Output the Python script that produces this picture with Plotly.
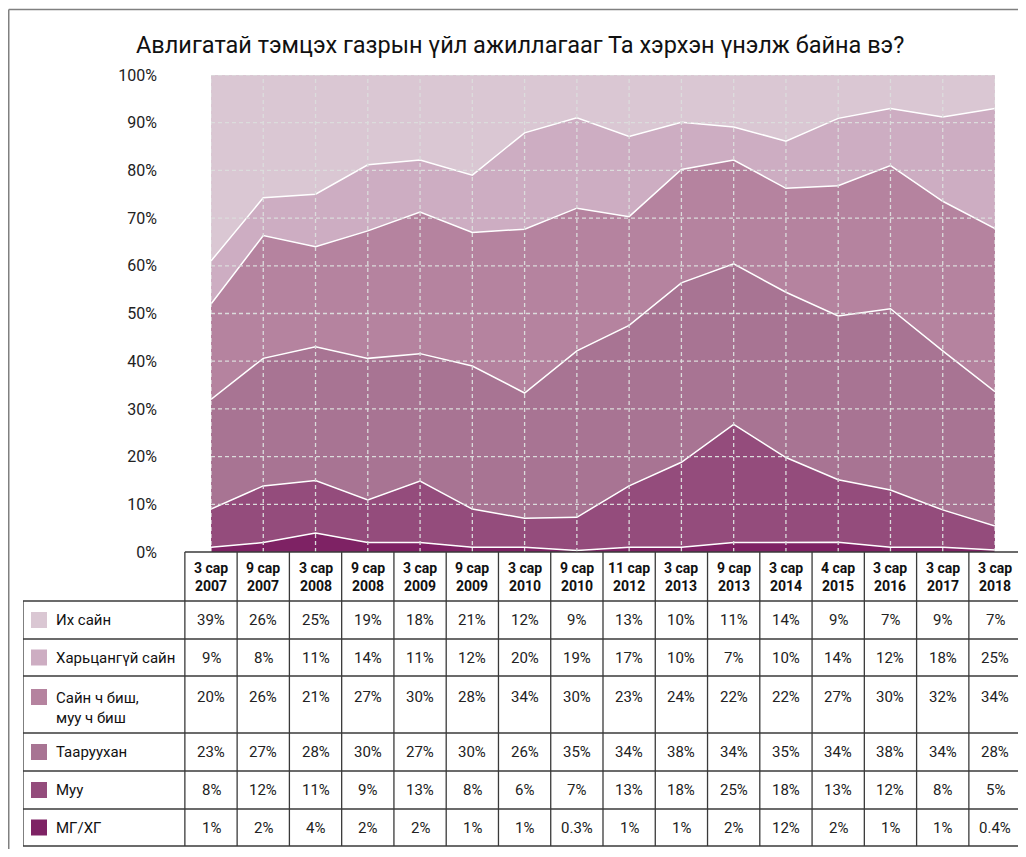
import plotly.graph_objects as go

# ---------------- data ----------------
categories = ["3 сар 2007", "9 сар 2007", "3 сар 2008", "9 сар 2008", "3 сар 2009",
              "9 сар 2009", "3 сар 2010", "9 сар 2010", "11 сар 2012", "3 сар 2013",
              "9 сар 2013", "3 сар 2014", "4 сар 2015", "3 сар 2016", "3 сар 2017",
              "3 сар 2018"]

ikh_sain = [39, 26, 25, 19, 18, 21, 12, 9, 13, 10, 11, 14, 9, 7, 9, 7]
kharitsangui_sain = [9, 8, 11, 14, 11, 12, 20, 19, 17, 10, 7, 10, 14, 12, 18, 25]
sain_ch_bish = [20, 26, 21, 27, 30, 28, 34, 30, 23, 24, 22, 22, 27, 30, 32, 34]
taaruukhan = [23, 27, 28, 30, 27, 30, 26, 35, 34, 38, 34, 35, 34, 38, 34, 28]
muu = [8, 12, 11, 9, 13, 8, 6, 7, 13, 18, 25, 18, 13, 12, 8, 5]
mg_khg = [1, 2, 4, 2, 2, 1, 1, 0.3, 1, 1, 2, 2, 2, 1, 1, 0.4]
# the printed table shows "12%" for МГ/ХГ in 3 сар 2014, while the area uses 2%
table_text_overrides = {("МГ/ХГ", 11): "12%"}

y_ticks = [0, 10, 20, 30, 40, 50, 60, 70, 80, 90, 100]

# series listed top (table order) -> drawn bottom-up
series = [
    ("Их сайн", ikh_sain, "#dac7d3"),
    ("Харьцангүй сайн", kharitsangui_sain, "#cdadc2"),
    ("Сайн ч биш,<br>муу ч биш", sain_ch_bish, "#b5839f"),
    ("Тааруухан", taaruukhan, "#a87493"),
    ("Муу", muu, "#944c7c"),
    ("МГ/ХГ", mg_khg, "#7e2264"),
]

# ---------------- layout constants (window pixels) ----------------
OFF = 8                      # browser body margin
W, H = 1026 - OFF, 857 - 2 * OFF
PLOT_L, PLOT_R = 211, 995
PLOT_T, PLOT_B = 75, 552
n = len(categories)
colw = (PLOT_R - PLOT_L) / (n - 1)
TABLE_L = 23
TABLE_R = PLOT_R + colw / 2
HEADER_T = PLOT_B
row_edges = [601, 639, 676, 733, 771, 809, 846]

FONT = "Roboto, 'Liberation Sans', Arial, sans-serif"
LINE_C = "#3a3a3a"
GRID_C = "#dcdcdc"


def px(xp):
    return (xp - OFF) / W


def py(yp):
    return 1 - (yp - OFF) / H


fig = go.Figure()

for name, vals, color in reversed(series):
    fig.add_trace(go.Scatter(
        x=categories, y=vals, name=name.replace("<br>", " "),
        mode="lines", stackgroup="one", groupnorm="percent",
        line=dict(color="white", width=0 if name == "Их сайн" else 1.5),
        fillcolor=color, hoverinfo="x+y+name",
        xaxis="x", yaxis="y",
    ))

# invisible trace for the table helper subplot
fig.add_trace(go.Scatter(x=[], y=[], xaxis="x2", yaxis="y2", showlegend=False))

shapes = []
# grid drawn above the areas
grid_line = dict(color=GRID_C, width=1.3, dash="4px,3px")
for t in y_ticks[1:]:
    shapes.append(dict(type="line", xref="x", yref="y", x0=0, x1=n - 1, y0=t, y1=t,
                       line=grid_line, layer="above"))
for i in range(n):
    shapes.append(dict(type="line", xref="x", yref="y", x0=i, x1=i, y0=0, y1=100,
                       line=grid_line, layer="above"))

# table: x2 axis has one unit per column, centred on the chart categories
x2_left = -0.5 - (PLOT_L - colw / 2 - TABLE_L) / colw
hl = dict(color=LINE_C, width=1.3)
shapes.append(dict(type="line", xref="x2", yref="paper", x0=-0.5, x1=n - 0.5,
                   y0=py(HEADER_T), y1=py(HEADER_T), line=hl))
for ye in row_edges:
    shapes.append(dict(type="line", xref="x2", yref="paper", x0=x2_left, x1=n - 0.5,
                       y0=py(ye), y1=py(ye), line=hl))
shapes.append(dict(type="line", xref="x2", yref="paper", x0=x2_left, x1=x2_left,
                   y0=py(row_edges[0]), y1=py(row_edges[-1]), line=hl))
for k in range(n + 1):
    shapes.append(dict(type="line", xref="x2", yref="paper", x0=k - 0.5, x1=k - 0.5,
                       y0=py(HEADER_T), y1=py(row_edges[-1]), line=hl))

# outer frame (open at right/bottom as in the cropped original)
shapes.append(dict(type="line", xref="paper", yref="paper", x0=px(8.75), x1=px(1040),
                   y0=py(9.5), y1=py(9.5), line=dict(color="#808080", width=1.5)))
shapes.append(dict(type="line", xref="paper", yref="paper", x0=px(8.75), x1=px(8.75),
                   y0=py(9.5), y1=py(870), line=dict(color="#808080", width=1.5)))

annotations = []
# title
annotations.append(dict(text="Авлигатай тэмцэх газрын үйл ажиллагааг Та хэрхэн үнэлж байна вэ?",
                        xref="paper", yref="paper", x=px(520), y=py(45), showarrow=False,
                        xanchor="center", yanchor="middle",
                        font=dict(family=FONT, size=23.5, color="#111")))
# header
for i, c in enumerate(categories):
    parts = c.split(" ")
    annotations.append(dict(text="<b>" + parts[0] + " " + parts[1] + "<br>" + parts[2] + "</b>",
                            xref="x2", yref="paper", x=i, y=py((HEADER_T + row_edges[0]) / 2),
                            showarrow=False, xanchor="center", yanchor="middle",
                            font=dict(family=FONT, size=14, color="#111")))
# body
for r, (name, vals, color) in enumerate(series):
    top, bot = row_edges[r], row_edges[r + 1]
    two_line = "<br>" in name
    ytxt = top + 21 if two_line else (top + bot) / 2
    for i, v in enumerate(vals):
        txt = table_text_overrides.get((name, i), f"{v:g}%")
        annotations.append(dict(text=txt, xref="x2", yref="paper", x=i, y=py(ytxt),
                                showarrow=False, xanchor="center", yanchor="middle",
                                font=dict(family=FONT, size=15, color="#222")))
    # legend swatch + label
    shapes.append(dict(type="rect", xref="paper", yref="paper",
                       x0=px(31), x1=px(47), y0=py(ytxt - 8), y1=py(ytxt + 8),
                       fillcolor=color, line=dict(width=0)))
    if two_line:
        annotations.append(dict(text=name, xref="paper", yref="paper", x=px(54),
                                y=py(ytxt - 10), showarrow=False, xanchor="left",
                                yanchor="top", align="left",
                                font=dict(family=FONT, size=15, color="#111")))
    else:
        annotations.append(dict(text=name, xref="paper", yref="paper", x=px(54),
                                y=py(ytxt), showarrow=False, xanchor="left",
                                yanchor="middle",
                                font=dict(family=FONT, size=15, color="#111")))

fig.update_layout(
    width=W, height=H,
    margin=dict(l=0, r=0, t=0, b=0),
    paper_bgcolor="white", plot_bgcolor="white",
    showlegend=False,
    xaxis=dict(domain=[px(PLOT_L), px(PLOT_R)], range=[0, n - 1], showgrid=False,
               showticklabels=False, ticks="", zeroline=False, showline=False,
               fixedrange=True),
    yaxis=dict(domain=[py(PLOT_B), py(PLOT_T)], range=[0, 100], tickvals=y_ticks,
               ticktext=[f"{t}%" for t in y_ticks],
               showgrid=False, zeroline=False, showline=False,
               ticks="", ticklabelstandoff=53, automargin=False,
               tickfont=dict(family=FONT, size=16, color="#222"), fixedrange=True),
    xaxis2=dict(domain=[px(TABLE_L), px(TABLE_R)], range=[x2_left, n - 0.5],
                anchor="y2", visible=False, fixedrange=True),
    yaxis2=dict(domain=[0, 0.01], anchor="x2", visible=False, fixedrange=True),
    shapes=shapes,
    annotations=annotations,
)

fig.write_html("out.html")
